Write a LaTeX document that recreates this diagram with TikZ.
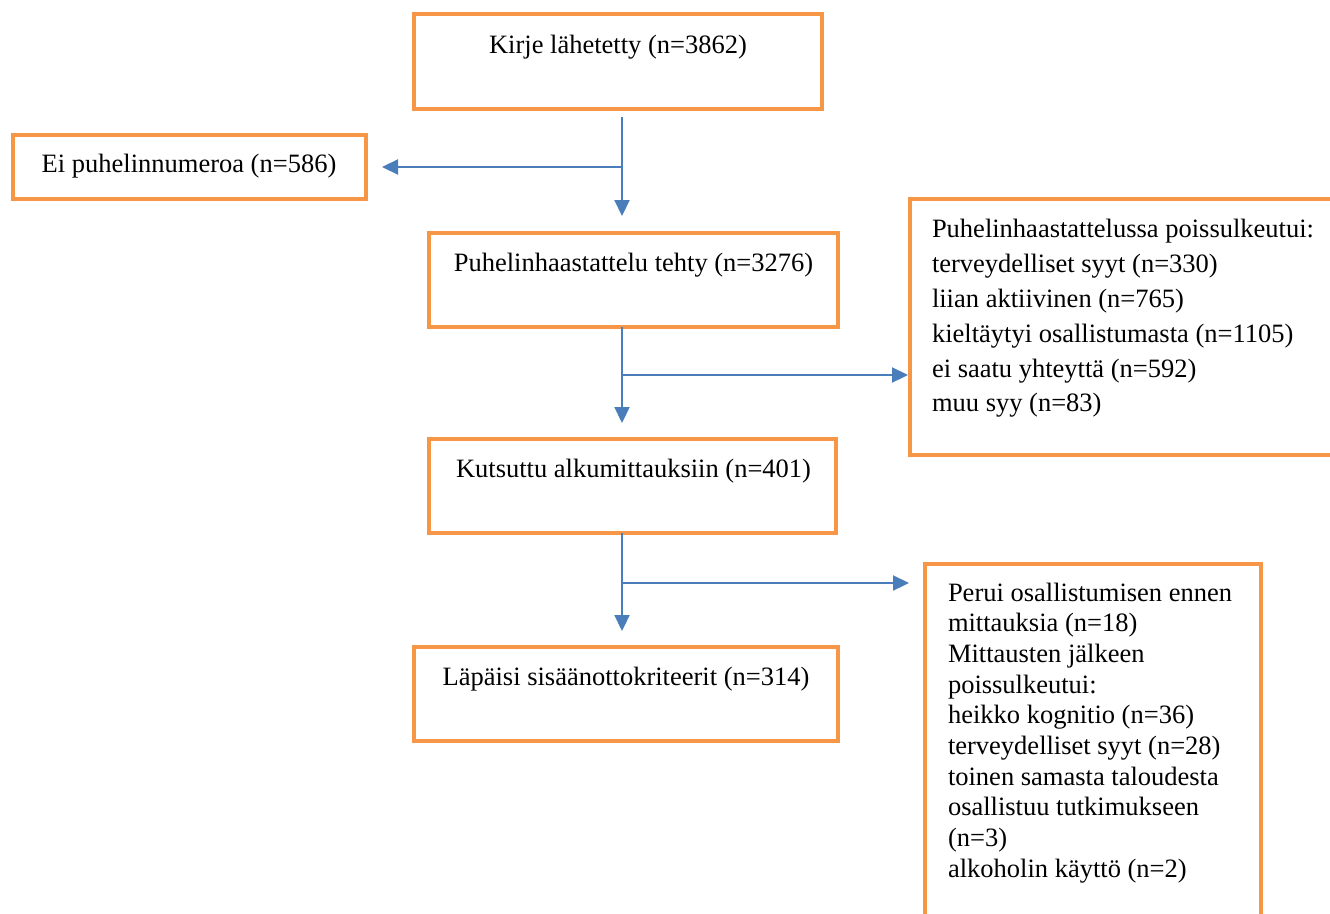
\documentclass[tikz,border=0pt]{standalone}
\usepackage{fontspec}
\setmainfont{Liberation Serif}
\usetikzlibrary{arrows.meta}
\definecolor{boxorange}{HTML}{F79646}
\definecolor{arrowblue}{HTML}{4A7EBB}
\begin{document}
\begin{tikzpicture}[x=1pt,y=-1pt,
  stagebox/.style={draw=boxorange,line width=4.5pt,inner sep=0pt,outer sep=0pt},
  boxtext/.style={inner sep=0pt,outer sep=0pt,anchor=base,font=\fontsize{26.5}{34.8}\selectfont},
  listtext/.style={inner sep=0pt,outer sep=0pt,anchor=north west,align=left},
  flowline/.style={draw=arrowblue,line width=2.2pt},
  flowarrow/.style={flowline,-{Triangle[length=16pt,width=15pt]}}
]
\useasboundingbox (0,0) rectangle (1330,913);
\clip (0,0) rectangle (1330,913);

% boxes
\node[stagebox,minimum width=408pt,minimum height=95pt] (b1) at (618,61.5) {};
\node[stagebox,minimum width=353pt,minimum height=64pt] (b2) at (189.5,167) {};
\node[stagebox,minimum width=409pt,minimum height=94pt] (b3) at (633.5,280) {};
\node[stagebox,minimum width=440pt,minimum height=256pt] (r1) at (1130,327) {};
\node[stagebox,minimum width=407pt,minimum height=94pt] (b4) at (632.5,486) {};
\node[stagebox,minimum width=424pt,minimum height=94pt] (b5) at (626,694) {};
\node[stagebox,minimum width=336pt,minimum height=380pt] (r2) at (1093,754) {};

% texts
\node[boxtext] (t1) at (618,53) {Kirje lähetetty (n=3862)};
\node[boxtext] (t2) at (189,172) {Ei puhelinnumeroa (n=586)};
\node[boxtext] (t3) at (633.5,271) {Puhelinhaastattelu tehty (n=3276)};
\node[boxtext] (t4) at (633.5,477) {Kutsuttu alkumittauksiin (n=401)};
\node[boxtext] (t5) at (626,685) {Läpäisi sisäänottokriteerit (n=314)};
\node[listtext,font=\fontsize{26.5}{34.8}\selectfont] (tr1) at (932,213.6) {\strut Puhelinhaastattelussa poissulkeutui:\\
terveydelliset syyt (n=330)\\
liian aktiivinen (n=765)\\
kieltäytyi osallistumasta (n=1105)\\
ei saatu yhteyttä (n=592)\\
muu syy (n=83)};
\node[listtext,font=\fontsize{26.5}{30.7}\selectfont] (tr2) at (948,579.5) {\strut Perui osallistumisen ennen\\
mittauksia (n=18)\\
Mittausten jälkeen\\
poissulkeutui:\\
heikko kognitio (n=36)\\
terveydelliset syyt (n=28)\\
toinen samasta taloudesta\\
osallistuu tutkimukseen\\
(n=3)\\
alkoholin käyttö (n=2)};

% junctions
\coordinate (j1) at (622,167);
\coordinate (j2) at (622,375);
\coordinate (j3) at (622,583);

% connectors
\draw[flowline] ([yshift=-8pt]b1.south -| j1) -- (j1);
\draw[flowarrow] (j1) -- ([yshift=17pt]b3.north -| j1);
\draw[flowarrow] (j1) -- ([xshift=16pt]b2.east |- j1);

\draw[flowline] (b3.south -| j2) -- (j2);
\draw[flowarrow] (j2) -- ([yshift=16pt]b4.north -| j2);
\draw[flowarrow] (j2) -- ([xshift=-2pt]r1.west |- j2);

\draw[flowline] (b4.south -| j3) -- (j3);
\draw[flowarrow] (j3) -- ([yshift=16pt]b5.north -| j3);
\draw[flowarrow] (j3) -- ([xshift=-16pt]r2.west |- j3);
\end{tikzpicture}
\end{document}
